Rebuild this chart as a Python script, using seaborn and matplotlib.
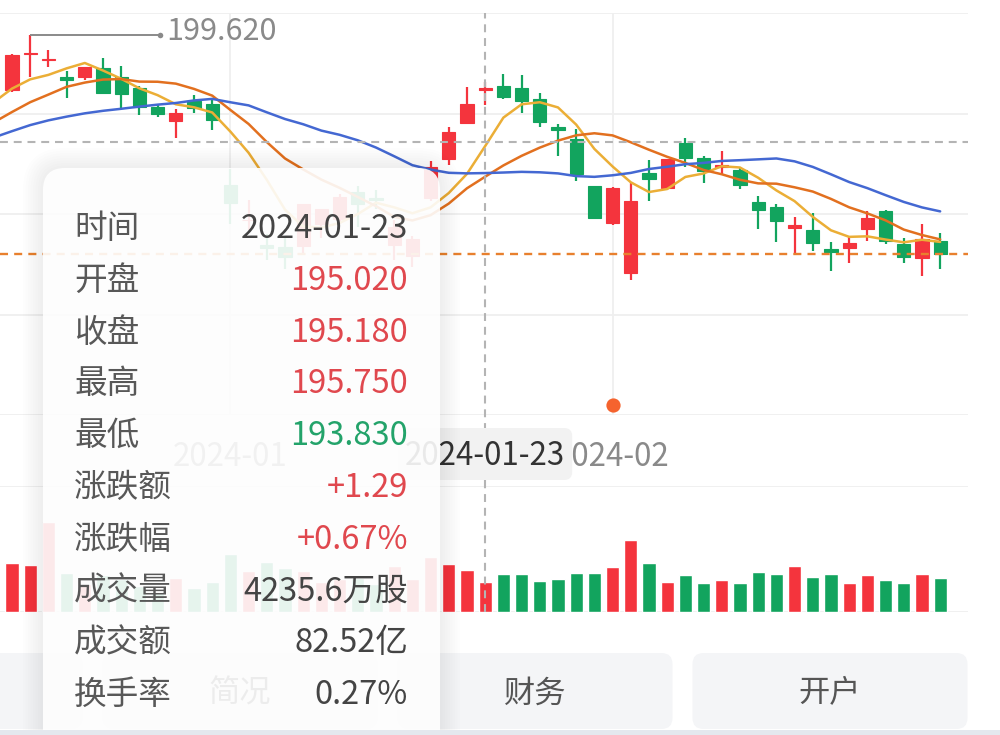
import numpy as np
import pandas as pd
import matplotlib
matplotlib.use("Agg")
import matplotlib.pyplot as plt
import matplotlib.transforms as mtransforms
from matplotlib.patches import FancyBboxPatch, Rectangle
import seaborn as sns

# ---------------- data ----------------
dates = ["2023-12-13", "2023-12-14", "2023-12-15", "2023-12-18", "2023-12-19", "2023-12-20",
         "2023-12-21", "2023-12-22", "2023-12-26", "2023-12-27", "2023-12-28", "2023-12-29",
         "2024-01-02", "2024-01-03", "2024-01-04", "2024-01-05", "2024-01-08", "2024-01-09",
         "2024-01-10", "2024-01-11", "2024-01-12", "2024-01-16", "2024-01-17", "2024-01-18",
         "2024-01-19", "2024-01-22", "2024-01-23", "2024-01-24", "2024-01-25", "2024-01-26",
         "2024-01-29", "2024-01-30", "2024-01-31", "2024-02-01", "2024-02-02", "2024-02-05",
         "2024-02-06", "2024-02-07", "2024-02-08", "2024-02-09", "2024-02-12", "2024-02-13",
         "2024-02-14", "2024-02-15", "2024-02-16", "2024-02-20", "2024-02-21", "2024-02-22",
         "2024-02-23", "2024-02-26", "2024-02-27", "2024-02-28"]
opens = [195.09, 198.02, 197.53, 196.09, 196.16, 196.90, 196.10, 195.18, 193.61, 192.49, 194.14, 193.90,
         187.15, 184.22, 182.15, 181.99, 182.09, 183.92, 184.35, 186.54, 186.06, 182.16, 181.27, 186.09,
         189.33, 192.30, 195.02, 195.42, 195.22, 194.27, 192.01, 190.94, 187.04, 183.99, 179.86, 188.15,
         186.86, 190.64, 189.39, 188.65, 188.42, 185.77, 185.32, 183.55, 183.42, 181.79, 181.94, 183.48,
         185.01, 182.24, 181.10, 182.51]
highs = [198.00, 199.62, 198.40, 196.63, 196.95, 197.68, 197.08, 195.41, 193.89, 193.50, 194.66, 194.40,
         188.44, 185.88, 183.09, 182.76, 185.60, 185.15, 186.40, 187.05, 186.74, 184.26, 182.93, 189.14,
         191.95, 195.33, 195.75, 196.38, 196.27, 194.76, 192.20, 191.80, 187.10, 186.95, 187.33, 189.25,
         189.31, 191.05, 189.54, 189.99, 188.67, 186.21, 185.53, 184.49, 184.85, 182.43, 182.89, 184.96,
         185.04, 182.76, 183.92, 183.12]
lows = [194.85, 196.16, 197.00, 194.39, 195.89, 194.83, 193.50, 192.97, 192.83, 191.09, 193.17, 191.73,
        183.89, 183.43, 180.88, 180.17, 181.50, 182.73, 183.92, 183.62, 185.19, 180.93, 180.30, 185.83,
        188.82, 192.26, 193.83, 194.34, 193.11, 191.94, 189.58, 187.47, 184.35, 183.82, 179.25, 185.84,
        186.77, 188.61, 187.35, 188.00, 186.79, 183.51, 182.44, 181.35, 181.67, 180.00, 180.66, 182.46,
        182.23, 180.65, 179.56, 180.13]
closes = [197.96, 198.11, 197.57, 195.89, 196.94, 194.83, 194.68, 193.60, 193.05, 193.15, 193.58, 192.53,
          185.64, 184.25, 181.91, 181.18, 185.56, 185.14, 186.19, 185.59, 185.92, 183.63, 182.68, 188.63,
          191.56, 193.89, 195.18, 194.50, 194.17, 192.42, 191.73, 188.04, 184.40, 186.86, 185.85, 187.68,
          189.30, 189.41, 188.32, 188.85, 187.15, 185.04, 184.15, 183.86, 182.31, 181.56, 182.32, 184.37,
          182.52, 181.16, 182.63, 181.42]
volumes = [70.40, 66.83, 128.54, 55.75, 40.71, 52.24, 46.48, 37.15, 28.92, 48.09, 34.05, 42.63,
           82.49, 58.41, 71.98, 62.30, 59.14, 42.84, 46.79, 49.13, 40.44, 65.60, 47.32, 78.01,
           68.74, 60.13, 42.36, 53.63, 54.82, 44.59, 47.15, 55.86, 55.47, 64.89, 102.52, 69.67,
           43.49, 53.44, 40.96, 45.16, 41.78, 56.53, 54.63, 65.43, 49.75, 53.67, 41.53, 52.29,
           45.12, 40.87, 54.32, 48.95]   # million shares
# closes before the first visible day (feed the moving averages at the left edge)
prior_closes = [187.44, 188.01, 189.71, 189.69, 191.45, 190.64, 191.31, 189.97, 189.79, 190.40,
                189.37, 189.95, 191.24, 189.43, 193.42, 192.32, 194.27, 195.71, 193.18, 194.71]

month_ticks = ["2024-01-02", "2024-02-01"]
month_labels = ["2024-01", "2024-02"]
event_dates = ["2024-02-01"]
cursor_date = "2024-01-23"
cursor_price = 190.72
ma_windows = [5, 10, 20]

tip_labels = ["时间", "开盘", "收盘", "最高", "最低", "涨跌额", "涨跌幅", "成交量", "成交额", "换手率"]
tip_values = ["2024-01-23", "195.020", "195.180", "195.750", "193.830", "+1.29", "+0.67%",
              "4235.6万股", "82.52亿", "0.27%"]
tip_kinds = ["n", "up", "up", "up", "down", "up", "up", "n", "n", "n"]
buttons = ["", "简况", "财务", "开户"]

# ---------------- style ----------------
RED = "#F4343D"
GREEN = "#12A45E"
MA_COLORS = ["#EBAE36", "#E2701F", "#4468D2"]
GRID = "#EFEFEF"
AXIS_TXT = "#8A8A8A"

sns.set_theme(style="white")
plt.rcParams["font.family"] = ["Noto Sans CJK SC", "DejaVu Sans"]
plt.rcParams["axes.unicode_minus"] = False

W, H = 1000, 735
fig = plt.figure(figsize=(W / 100, H / 100), dpi=100)
fig.patch.set_facecolor("white")


def frac(x0, y0, x1, y1):
    return [x0 / W, 1 - y1 / H, (x1 - x0) / W, (y1 - y0) / H]


ax = fig.add_axes(frac(0, 13, 968, 415), zorder=1)
axv = fig.add_axes(frac(0, 486, 968, 612), zorder=1)

n = len(dates)
idx = np.arange(n)
o = np.array(opens)
c = np.array(closes)
up = c >= o
cols = np.where(up, RED, GREEN)
XLIM = (-0.66, 52.53)

# ---- candles ----
ax.vlines(idx, lows, highs, colors=cols, lw=1.6, zorder=3)
body_lo = np.minimum(o, c)
body_h = np.maximum(np.abs(c - o), 0.06)
ax.bar(idx, body_h, bottom=body_lo, width=0.72, color=cols, edgecolor=cols, linewidth=0.8, zorder=4)

# ---- moving averages ----
all_close = pd.Series(prior_closes + closes)
k = len(prior_closes)
xs = np.arange(-1, n)
for w, colr in zip(ma_windows, MA_COLORS):
    ma = all_close.rolling(w).mean().to_numpy()[k - 1:]
    sns.lineplot(x=xs, y=ma, ax=ax, color=colr, lw=1.8, zorder=5, estimator=None, sort=False)

# ---- axes styling ----
ax.set_xlim(*XLIM)
ylo, yhi = 168.03, 201.45
ax.set_ylim(ylo, yhi)
ax.set_yticks(np.linspace(ylo, yhi, 5))
tick_idx = [dates.index(d) for d in month_ticks]
ax.set_xticks(tick_idx)
ax.set_xticklabels(month_labels)
ax.grid(True, color=GRID, lw=1.3)
ax.set_axisbelow(True)
ax.tick_params(axis="y", length=0, labelleft=False)
ax.tick_params(axis="x", length=6, width=1.3, color=GRID, labelsize=22.5, labelcolor=AXIS_TXT, pad=13)
for s in ax.spines.values():
    s.set_visible(False)
ax.set_xlabel("")
ax.set_ylabel("")

# ---- crosshair and last price ----
cur_i = dates.index(cursor_date)
ax.axhline(cursor_price, color="#B4B4B4", lw=1.5, ls=(0, (3.8, 2.8)), zorder=6)
ax.axvline(cur_i, ymin=-(486 - 415) / 402, ymax=1, color="#B4B4B4", lw=1.5, ls=(0, (3.8, 2.8)),
           zorder=6, clip_on=False)
ax.axhline(closes[-1], color="#E8802E", lw=1.7, ls=(0, (3.4, 2.6)), zorder=6)

# ---- highest price marker ----
imax = int(np.argmax(highs))
hmax = highs[imax]
ax.plot([imax, imax + 7.15], [hmax, hmax], color="#8A8A8A", lw=1.4, zorder=7, solid_capstyle="butt")
ax.scatter([imax + 7.15], [hmax], s=16, color="#8A8A8A", zorder=7, linewidths=0)
ax.text(imax + 7.5, hmax + 0.28, f"{hmax:.3f}", ha="left", va="center", color="#8A8A8A",
        fontsize=22, zorder=7)

# ---- event marker ----
trans = mtransforms.blended_transform_factory(ax.transData, ax.transAxes)
for d in event_dates:
    ax.scatter([dates.index(d)], [0.025], transform=trans, s=105, color="#F5632E", zorder=8,
               linewidths=0, clip_on=False)

# ---- volume ----
vdf = pd.DataFrame({"i": idx, "vol": volumes, "dir": np.where(up, "up", "down")})
sns.barplot(data=vdf, x="i", y="vol", hue="dir", palette={"up": RED, "down": GREEN}, dodge=False,
            width=0.72, native_scale=True, legend=False, errorbar=None, saturation=1, ax=axv)
axv.set_xlim(*XLIM)
axv.set_ylim(0, 180)
axv.set_yticks([0, 180])
axv.set_xticks([])
axv.grid(True, axis="y", color=GRID, lw=1.3)
axv.set_axisbelow(True)
axv.tick_params(axis="y", length=0, labelleft=False)
for s in axv.spines.values():
    s.set_visible(False)
axv.set_xlabel("")
axv.set_ylabel("")
axv.axvline(cur_i, color="#B4B4B4", lw=1.5, ls=(0, (3.8, 2.8)), zorder=6)


# ---------------- UI layers ----------------
def ui_axes(z):
    a = fig.add_axes([0, 0, 1, 1], zorder=z)
    a.set_xlim(0, W)
    a.set_ylim(H, 0)
    a.axis("off")
    a.patch.set_alpha(0)
    return a


def ctext(a, x, yc, s, size, color, ha="center"):
    px = size * 100 / 72
    a.text(x, yc + 0.365 * px, s, ha=ha, va="baseline", fontsize=size, color=color)


mid = ui_axes(2)
# crosshair date label
cx = ax.transData.transform((cur_i, ylo))[0]
mid.add_patch(FancyBboxPatch((cx - 87, 428), 174, 52, boxstyle="round,pad=0,rounding_size=8",
                             fc="#F2F2F2", ec="none"))
ctext(mid, cx, 454, cursor_date, 22.5, "#333333")
# bottom buttons
for i, lab in enumerate(buttons):
    bc = -55 + 295 * i
    mid.add_patch(FancyBboxPatch((bc - 137.5, 653), 275, 76, boxstyle="round,pad=0,rounding_size=11",
                                 fc="#F4F5F7", ec="none"))
    if lab:
        ctext(mid, bc, 691, lab, 22.5, "#555555")

top = ui_axes(3)
# tooltip shadow
for e in range(1, 9):
    top.add_patch(FancyBboxPatch((43 - 2.5 * e, 168 - 2.5 * e), 397 + 5 * e, 620 + 5 * e,
                                 boxstyle=f"round,pad=0,rounding_size={22 + 2.5 * e}",
                                 fc="#000000", ec="none", alpha=0.008))
top.add_patch(FancyBboxPatch((43, 168), 397, 620, boxstyle="round,pad=0,rounding_size=22",
                             fc="white", ec="none", alpha=0.9))
kind_col = {"n": "#444444", "up": "#E0484E", "down": "#23A36A"}
for r, (lab, val, kd) in enumerate(zip(tip_labels, tip_values, tip_kinds)):
    yc = 226 + 51.8 * r
    ctext(top, 74, yc, lab, 23.5, "#585858", ha="left")
    ctext(top, 408, yc, val, 23.5, kind_col[kd], ha="right")
top.add_patch(Rectangle((0, 730), W, 5, fc="#E4E8EE", ec="none"))

fig.savefig("out.png", dpi=100, facecolor="white")
